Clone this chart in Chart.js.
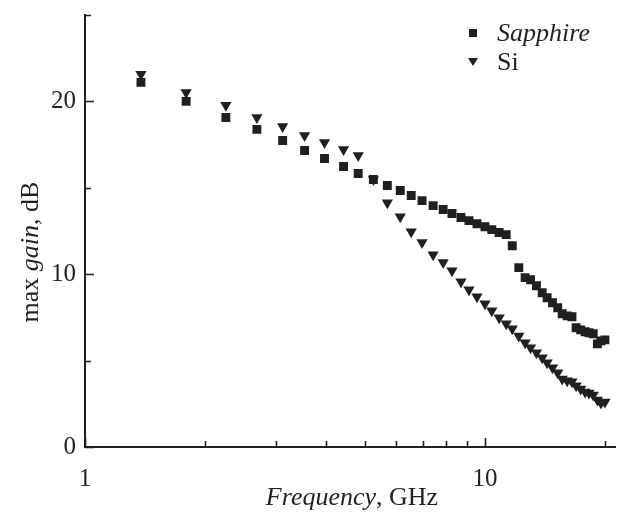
<!DOCTYPE html>
<html>
<head>
<meta charset="utf-8">
<script src="https://cdn.jsdelivr.net/npm/chart.js"></script>
<style>
  html, body { margin: 0; padding: 0; background: #fff; }
  #wrap { width: 618px; height: 512px; overflow: hidden; }
</style>
</head>
<body>
<div id="wrap"><canvas id="gainChart" width="622" height="512"></canvas></div>
<script>
// frequency points, GHz (shared by both samples)
const freq = [1.38, 1.79, 2.25, 2.69, 3.12, 3.54, 3.97, 4.43, 4.82, 5.26,
  5.70, 6.14, 6.54, 6.96, 7.42, 7.86, 8.27, 8.71, 9.12, 9.55,
  10.0, 10.4, 10.85, 11.3, 11.7, 12.15, 12.6, 13.0, 13.45, 13.9,
  14.3, 14.75, 15.2, 15.6, 16.05, 16.5, 16.9, 17.35, 17.8, 18.2,
  18.65, 19.1, 19.5, 19.95];

// max gain, dB
const sapphire = [21.1, 20.0, 19.07, 18.38, 17.74, 17.16, 16.7, 16.23, 15.83, 15.48,
  15.13, 14.84, 14.55, 14.26, 13.97, 13.74, 13.51, 13.28, 13.1, 12.92,
  12.75, 12.58, 12.41, 12.29, 11.65, 10.38, 9.8, 9.68, 9.33, 8.93,
  8.64, 8.35, 8.06, 7.71, 7.59, 7.54, 6.9, 6.78, 6.67, 6.61,
  6.55, 5.97, 6.14, 6.2];

const si = [21.57, 20.52, 19.77, 19.07, 18.55, 18.03, 17.62, 17.22, 16.87, 15.48,
  14.14, 13.33, 12.46, 11.83, 11.13, 10.67, 10.2, 9.57, 9.1, 8.7,
  8.29, 7.88, 7.48, 7.13, 6.84, 6.43, 6.03, 5.74, 5.45, 5.16,
  4.87, 4.58, 4.29, 3.94, 3.83, 3.77, 3.54, 3.36, 3.19, 3.13,
  3.01, 2.72, 2.55, 2.61];

const xLabelTicks = [1, 10];
const xMinorTicks = [2, 3, 4, 5, 6, 7, 8, 9, 20];
const yLabelTicks = [0, 10, 20];
const yMinorTicks = [5, 15, 25];

const ink = '#231f20';
const serif = '"Liberation Serif", "DejaVu Serif", serif';

// inward tick marks, axis titles with italic words, legend
const extras = {
  id: 'extras',
  afterDraw(chart) {
    const ctx = chart.ctx;
    const xs = chart.scales.x, ys = chart.scales.y;
    const area = chart.chartArea;
    ctx.save();
    ctx.strokeStyle = ink;
    ctx.fillStyle = ink;
    ctx.lineWidth = 1.6;

    ctx.beginPath();
    xLabelTicks.concat(xMinorTicks).forEach(v => {
      const px = Math.round(xs.getPixelForValue(v)) + 0.5;
      const len = xLabelTicks.includes(v) ? 9 : 6;
      ctx.moveTo(px, area.bottom);
      ctx.lineTo(px, area.bottom - len);
    });
    yLabelTicks.concat(yMinorTicks).forEach(v => {
      const py = Math.round(ys.getPixelForValue(v)) + 0.5;
      const len = yLabelTicks.includes(v) ? 9 : 6;
      ctx.moveTo(area.left, py);
      ctx.lineTo(area.left + len, py);
    });
    ctx.stroke();

    // mixed-style text helper
    function runs(parts, x, y, align, size) {
      let total = 0;
      parts.forEach(p => { ctx.font = p[1] + ' ' + size + 'px ' + serif; total += ctx.measureText(p[0]).width; });
      let cx = align === 'center' ? x - total / 2 : x;
      ctx.textAlign = 'left';
      parts.forEach(p => {
        ctx.font = p[1] + ' ' + size + 'px ' + serif;
        ctx.fillText(p[0], cx, y);
        cx += ctx.measureText(p[0]).width;
      });
    }

    ctx.textBaseline = 'alphabetic';
    runs([['Frequency', 'italic'], [', GHz', 'normal']], 352, 505, 'center', 26);

    ctx.save();
    ctx.translate(38, 252);
    ctx.rotate(-Math.PI / 2);
    runs([['max ', 'normal'], ['gain', 'italic'], [', dB', 'normal']], 0, 0, 'center', 26);
    ctx.restore();

    // legend
    ctx.fillRect(469, 29, 8, 8);
    ctx.beginPath();
    ctx.moveTo(468, 58);
    ctx.lineTo(478, 58);
    ctx.lineTo(473, 66);
    ctx.closePath();
    ctx.fill();
    runs([['Sapphire', 'italic']], 497, 41, 'left', 26);
    runs([['Si', 'normal']], 497, 70, 'left', 26);
    ctx.restore();
  }
};

function noPad(s) {
  s.paddingLeft = 0; s.paddingRight = 0; s.paddingTop = 0; s.paddingBottom = 0;
}

new Chart(document.getElementById('gainChart'), {
  type: 'scatter',
  data: {
    datasets: [
      {
        label: 'Sapphire',
        data: freq.map((f, i) => ({ x: f, y: sapphire[i] })),
        pointStyle: 'rect',
        pointRadius: 6.3,
        pointHoverRadius: 6.3,
        backgroundColor: ink,
        borderColor: ink,
        borderWidth: 0
      },
      {
        label: 'Si',
        data: freq.map((f, i) => ({ x: f, y: si[i] })),
        pointStyle: 'triangle',
        rotation: 180,
        pointRadius: 6.5,
        pointHoverRadius: 6.5,
        backgroundColor: ink,
        borderColor: ink,
        borderWidth: 0
      }
    ]
  },
  options: {
    responsive: false,
    animation: false,
    layout: { padding: { top: 15, right: 1, left: 0, bottom: 0 } },
    plugins: { legend: { display: false }, tooltip: { enabled: false } },
    scales: {
      x: {
        type: 'logarithmic',
        min: 1,
        max: 21.2,
        grid: { display: false, drawTicks: false },
        border: { display: true, color: ink, width: 2 },
        afterBuildTicks: s => { s.ticks = xLabelTicks.map(v => ({ value: v })); },
        afterFit: s => { s.height = 65; noPad(s); },
        ticks: {
          color: ink,
          padding: 17,
          autoSkip: false,
          maxRotation: 0,
          font: { family: serif, size: 25 },
          callback: v => String(v)
        }
      },
      y: {
        min: 0,
        max: 25,
        grid: { display: false, drawTicks: false },
        border: { display: true, color: ink, width: 2 },
        afterBuildTicks: s => { s.ticks = yLabelTicks.map(v => ({ value: v })); },
        afterFit: s => { s.width = 85; noPad(s); },
        ticks: {
          color: ink,
          padding: 9,
          font: { family: serif, size: 25 },
          callback: v => String(v)
        }
      }
    }
  },
  plugins: [extras]
});
</script>
</body>
</html>
